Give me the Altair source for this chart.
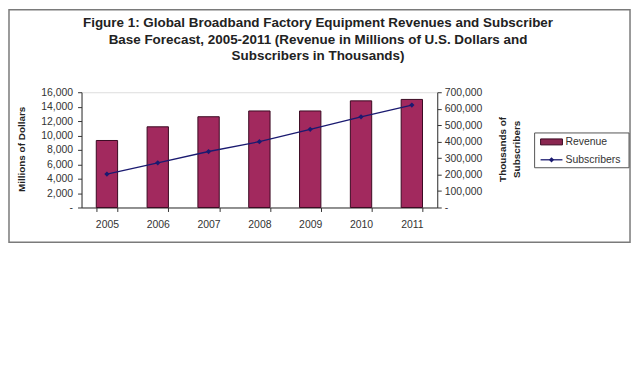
import altair as alt
import pandas as pd

years = ["2005", "2006", "2007", "2008", "2009", "2010", "2011"]
revenue = [9300, 11200, 12600, 13400, 13400, 14800, 15000]
subscribers = [203000, 271000, 340000, 400000, 475000, 551000, 622000]
left_ticks = [0, 2000, 4000, 6000, 8000, 10000, 12000, 14000, 16000]
right_ticks = [0, 100000, 200000, 300000, 400000, 500000, 600000, 700000]
title_lines = [
    "Figure 1: Global Broadband Factory Equipment Revenues and Subscriber",
    "Base Forecast, 2005-2011 (Revenue in Millions of U.S. Dollars and",
    "Subscribers in Thousands)",
]

df = pd.DataFrame({"year": years, "revenue": revenue, "subscribers": subscribers})
dummy = pd.DataFrame({"k": [0]})

FONT = "Liberation Sans"
W, H = 358, 116
BAR = "#a2295e"
BAR_EDGE = "#3a0a22"
LINE = "#1a1a70"

xenc = alt.X(
    "year:N",
    title=None,
    sort=years,
    scale=alt.Scale(paddingInner=0.58, paddingOuter=0.29),
    axis=alt.Axis(
        labelAngle=0, labelFontSize=10.5, labelColor="#333333", labelPadding=8,
        tickBand="extent", tickSize=4, tickColor="#333333",
        domainColor="#333333", labelFont=FONT,
    ),
)

bars = alt.Chart(df).mark_bar(
    color=BAR, stroke=BAR_EDGE, strokeWidth=1
).encode(
    x=xenc,
    y=alt.Y(
        "revenue:Q",
        scale=alt.Scale(domain=[0, 16000], nice=False),
        axis=alt.Axis(
            title="Millions of Dollars", values=left_ticks, grid=False,
            labelExpr="datum.value == 0 ? '-\u00a0\u00a0\u00a0\u00a0\u00a0\u00a0' : format(datum.value, ',')",
            labelFontSize=10.5, labelColor="#333333", labelPadding=5, labelFont=FONT,
            tickSize=4, tickColor="#333333", domainColor="#333333",
            titleFontSize=10, titleFont=FONT, titleFontWeight="bold", titleColor="#222222",
            titleAngle=270, titleX=-60, titleY=57, titleAlign="center", titleBaseline="middle",
        ),
    ),
)

line = alt.Chart(df).mark_line(
    color=LINE, strokeWidth=1.3,
    point=alt.OverlayMarkDef(shape="diamond", size=28, filled=True, color=LINE),
).encode(
    x=alt.X("year:N", sort=years),
    y=alt.Y(
        "subscribers:Q",
        scale=alt.Scale(domain=[0, 700000], nice=False),
        axis=alt.Axis(
            orient="right",
            title=["Thousands of", "Subscribers"], values=right_ticks, grid=False,
            labelExpr="datum.value == 0 ? '\u00a0-' : format(datum.value, ',')",
            labelFontSize=10.5, labelColor="#333333", labelPadding=3, labelFont=FONT,
            tickSize=4, tickColor="#333333", domainColor="#333333",
            titleFontSize=10, titleFont=FONT, titleFontWeight="bold", titleColor="#222222",
            titleAngle=270, titleX=66, titleY=57, titleAlign="center", titleBaseline="middle",
            titleLineHeight=14,
        ),
    ),
)

border = alt.Chart(dummy).mark_rect(
    fillOpacity=0, stroke="#7a7a7a", strokeWidth=1.5
).encode(
    x=alt.value(-73), x2=alt.value(552), y=alt.value(-83), y2=alt.value(151)
)

legend_box = alt.Chart(dummy).mark_rect(
    fill="white", stroke="#555555", strokeWidth=1
).encode(
    x=alt.value(456), x2=alt.value(551), y=alt.value(41), y2=alt.value(76)
)
legend_swatch = alt.Chart(dummy).mark_rect(
    fill="#8a2650", stroke=BAR_EDGE, strokeWidth=1
).encode(
    x=alt.value(462), x2=alt.value(484), y=alt.value(47), y2=alt.value(53)
)
legend_line = alt.Chart(dummy).mark_rule(color=LINE, strokeWidth=1.3).encode(
    x=alt.value(462), x2=alt.value(484), y=alt.value(68)
)
legend_pt = alt.Chart(dummy).mark_point(
    shape="diamond", size=28, filled=True, color=LINE, opacity=1
).encode(x=alt.value(473), y=alt.value(68))
legend_text = alt.Chart(pd.DataFrame({"t": ["Revenue", "Subscribers"], "yy": [50, 68]})).mark_text(
    align="left", baseline="middle", fontSize=10.5, font=FONT, color="#333333"
).encode(
    text="t:N", x=alt.value(487), y=alt.Y("yy:Q", scale=None, axis=None)
)

title_text = alt.Chart(pd.DataFrame({"t": title_lines, "yy": [-69.5, -53, -36]})).mark_text(
    align="center", baseline="middle", fontSize=13.5, font=FONT, fontWeight="bold", color="#222222"
).encode(
    text="t:N", x=alt.value(238), y=alt.Y("yy:Q", scale=None, axis=None)
)

chart = alt.layer(bars, line).resolve_scale(y="independent")
chart = alt.layer(
    chart, border, legend_box, legend_swatch, legend_line, legend_pt, legend_text, title_text
).properties(
    width=W, height=H,
    autosize=alt.AutoSizeParams(type="none"),
    padding={"left": 74, "top": 84, "right": 196, "bottom": 40},
).configure_view(
    fill="#c0c0c0", stroke="#808080", strokeWidth=1
).configure(background="white")

chart.save("out.html", embed_options={"renderer": "svg", "actions": False})
